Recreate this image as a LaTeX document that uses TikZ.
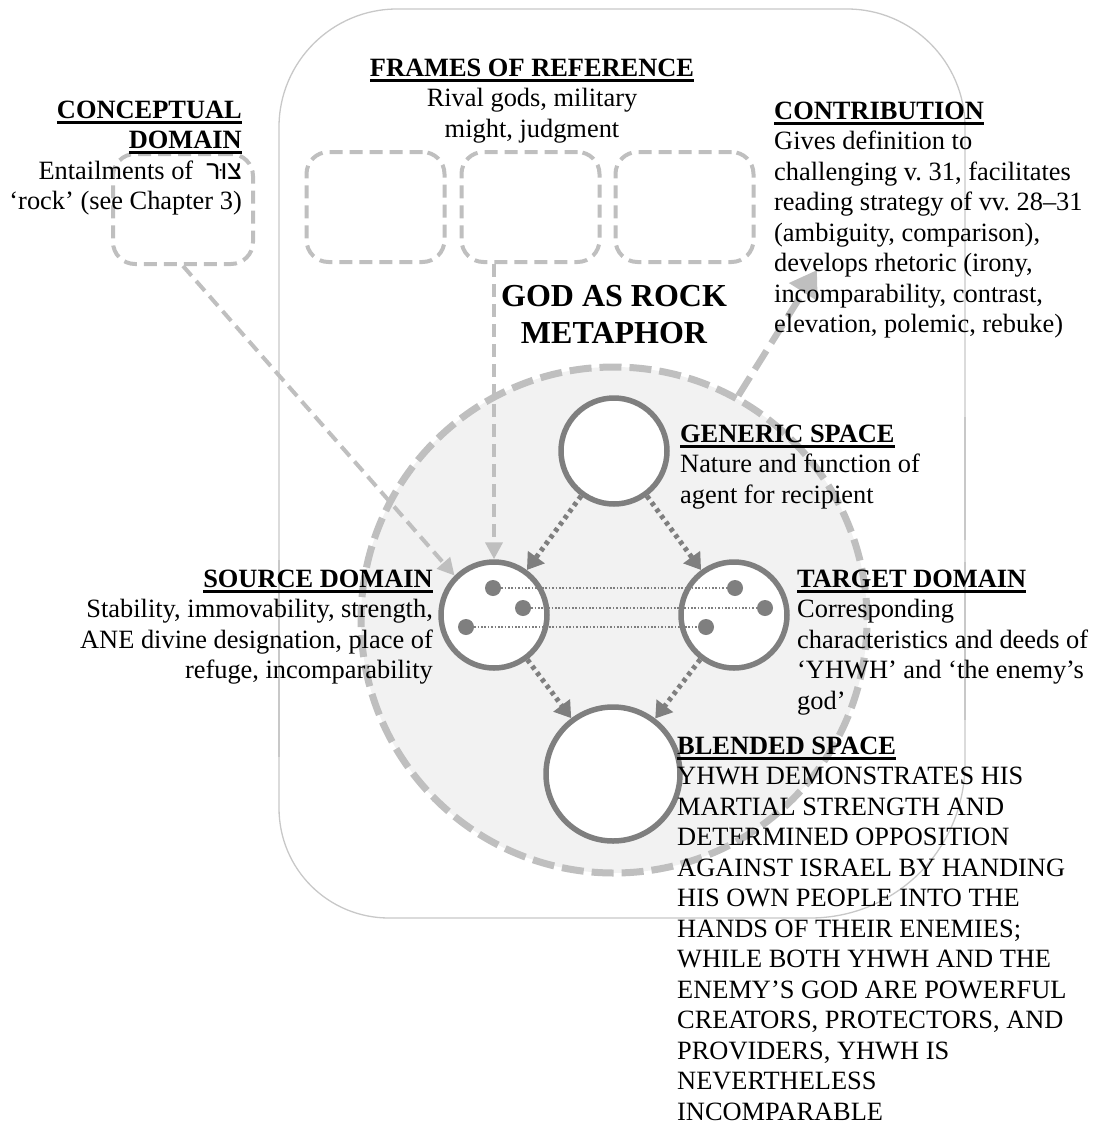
\documentclass[tikz,border=0pt]{standalone}
\usepackage{fontspec}
\setmainfont{Liberation Serif}
\newfontfamily\hebfont[Script=Hebrew]{Liberation Sans}
\TeXXeTstate=1
\frenchspacing
\usetikzlibrary{arrows.meta}

\definecolor{framegray}{HTML}{C8C8C8}
\definecolor{lightdash}{HTML}{BFBFBF}
\definecolor{darkgray}{HTML}{7F7F7F}
\definecolor{blendfill}{HTML}{F2F2F2}

% bold heading with a heavy underline
\newcommand\headu[1]{\setbox0=\hbox{\bfseries #1}\rlap{\rule[-5.5pt]{\wd0}{2.8pt}}\box0}
% text blocks whose baseline is the baseline of their first line
\newcommand\blockL[1]{\begin{tabular}[t]{@{}l@{}}#1\end{tabular}}
\newcommand\blockR[1]{\begin{tabular}[t]{@{}r@{}}#1\end{tabular}}
\newcommand\blockC[1]{\begin{tabular}[t]{@{}c@{}}#1\end{tabular}}

\tikzset{
  framebox/.style={draw=framegray, line width=1.3pt},
  dashbox/.style={draw=lightdash, line width=4pt, dash pattern=on 13pt off 7pt,
    rounded corners=22pt, minimum width=138pt, minimum height=110pt, inner sep=0pt},
  space/.style={circle, draw=darkgray, fill=white, line width=5.5pt, inner sep=0pt},
  dot/.style={circle, fill=darkgray, minimum size=16pt, inner sep=0pt},
  linkline/.style={draw=darkgray, line width=1.4pt, dash pattern=on 1.6pt off 1.8pt},
  maparrow/.style={draw=darkgray, line width=5pt, dash pattern=on 4pt off 4pt,
    -{Triangle[length=16pt,width=20pt]}},
  feedarrow/.style={draw=lightdash, line width=4pt, dash pattern=on 13pt off 7pt,
    -{Triangle[length=17pt,width=17pt]}},
  outarrow/.style={draw=lightdash, line width=6.5pt, dash pattern=on 22pt off 9pt,
    -{Triangle[length=26pt,width=32pt]}},
  txt/.style={inner sep=0pt, font=\fontsize{26.4pt}{30.5pt}\selectfont},
  titletxt/.style={inner sep=0pt, font=\fontsize{32pt}{37pt}\selectfont\bfseries},
}

\begin{document}
\begin{tikzpicture}[x=1pt, y=-1pt]
\useasboundingbox (0,0) rectangle (1097,1128);

% outer frame with rounded corners
\draw[framebox]
  (279,127) .. controls (279,62) and (332,9) .. (397,9)
  -- (847,9) .. controls (912,9) and (965,62) .. (965,127)
  -- (965,763) .. controls (965,849) and (896,918) .. (810,918)
  -- (389,918) .. controls (328,918) and (279,869) .. (279,808)
  -- cycle;
\draw[draw=framegray, line width=2.6pt] (279,560) -- (279,757);
\draw[draw=framegray, line width=2.6pt] (965,417) -- (965,540);
\draw[draw=framegray, line width=2.6pt] (965,562) -- (965,720);

% blending area
\node[circle, fill=blendfill, draw=lightdash, line width=7pt,
      dash pattern=on 22pt off 8pt, minimum size=506pt, inner sep=0pt] (blendarea) at (614,620) {};

% input frames
\node[dashbox, minimum width=140pt] (concbox) at (183,209) {};
\node[dashbox] (frameA) at (375.5,207) {};
\node[dashbox] (frameB) at (530.5,207) {};
\node[dashbox] (frameC) at (684.5,207) {};

% mental spaces
\node[space, minimum size=106pt] (gen) at (614,451) {};
\node[space, minimum size=106pt] (src) at (494,615) {};
\node[space, minimum size=106pt] (tgt) at (734,615) {};
\node[space, minimum size=134pt] (blend) at (613,774) {};

% counterpart elements
\node[dot] (s1) at (493,588) {};
\node[dot] (s2) at (523,608) {};
\node[dot] (s3) at (466,627) {};
\node[dot] (t1) at (735,588) {};
\node[dot] (t2) at (765,608) {};
\node[dot] (t3) at (706,627) {};
\draw[linkline] (s1) -- (t1);
\draw[linkline] (s2) -- (t2);
\draw[linkline] (s3) -- (t3);

% projections between spaces
\draw[maparrow] (gen) -- (src);
\draw[maparrow] (gen) -- (tgt);
\draw[maparrow] (src) -- (blend);
\draw[maparrow] (tgt) -- (blend);

% inputs and output
\coordinate (frameBout) at (src.north |- frameB.south);
\draw[feedarrow] (concbox.south) -- (src.135);
\draw[feedarrow] (frameBout) -- (src.north);
\coordinate (contribtip) at (817,270);
\draw[outarrow] (blendarea.61) -- (contribtip);

% labels
\node[titletxt, anchor=base] (title) at (614,306) {\blockC{GOD AS ROCK\\METAPHOR}};

\node[txt, anchor=base east] (concT) at (242,118)
  {\blockR{\headu{CONCEPTUAL}\\\headu{DOMAIN}\\Entailments of\ \ {\hebfont\beginR צוּר\endR}\\‘rock’ (see Chapter 3)}};

\node[txt, anchor=base] (framesT) at (532,76)
  {\blockC{\headu{FRAMES OF REFERENCE}\\Rival gods, military\\might, judgment}};

\node[txt, anchor=base west] (contribT) at (774,119)
  {\blockL{\headu{CONTRIBUTION}\\Gives definition to\\challenging v. 31, facilitates\\reading strategy of vv. 28–31\\(ambiguity, comparison),\\develops rhetoric (irony,\\incomparability, contrast,\\elevation, polemic, rebuke)}};

\node[txt, anchor=base west] (genT) at (680,442)
  {\blockL{\headu{GENERIC SPACE}\\Nature and function of\\agent for recipient}};

\node[txt, anchor=base east] (srcT) at (433,587)
  {\blockR{\headu{SOURCE DOMAIN}\\Stability, immovability, strength,\\ANE divine designation, place of\\refuge, incomparability}};

\node[txt, anchor=base west] (tgtT) at (797,587)
  {\blockL{\headu{TARGET DOMAIN}\\Corresponding\\characteristics and deeds of\\‘YHWH’ and ‘the enemy’s\\god’}};

\node[txt, anchor=base west] (blendT) at (677,754)
  {\blockL{\headu{BLENDED SPACE}\\YHWH DEMONSTRATES HIS\\MARTIAL STRENGTH AND\\DETERMINED OPPOSITION\\AGAINST ISRAEL BY HANDING\\HIS OWN PEOPLE INTO THE\\HANDS OF THEIR ENEMIES;\\WHILE BOTH YHWH AND THE\\ENEMY’S GOD ARE POWERFUL\\CREATORS, PROTECTORS, AND\\PROVIDERS, YHWH IS\\NEVERTHELESS\\INCOMPARABLE}};
\end{tikzpicture}
\end{document}
